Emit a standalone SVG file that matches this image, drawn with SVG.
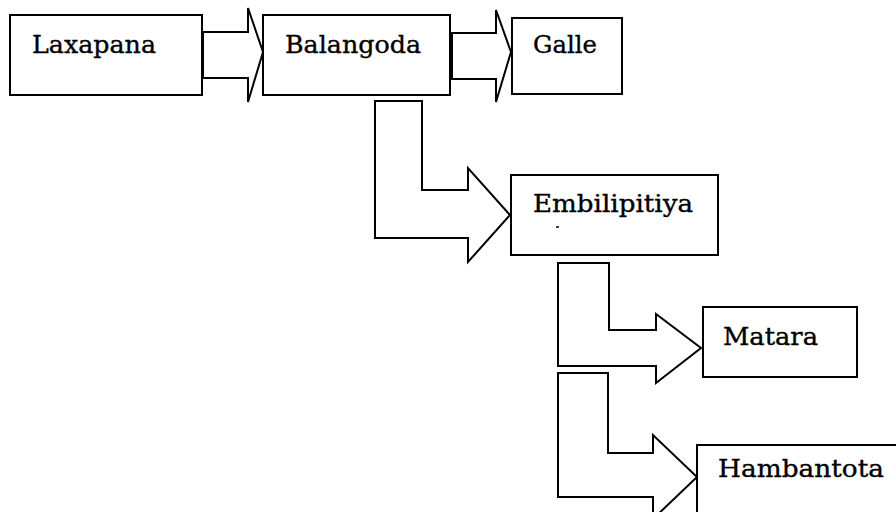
<svg xmlns="http://www.w3.org/2000/svg" width="896" height="512" viewBox="0 0 896 512">
<style>
.box{fill:#fff;stroke:#000;stroke-width:2}
.arr{fill:#fff;stroke:#000;stroke-width:2;stroke-linejoin:miter}
.t{font-family:"DejaVu Serif","Liberation Serif",serif;font-size:24px;fill:#000;stroke:#000;stroke-width:0.35}
</style>
<rect width="896" height="512" fill="#fff"/>
<g id="connectors">
<path class="arr" d="M203,32 H248 V8 L263,52 L248,102 V78 H203 Z"/>
<path class="arr" d="M452,33 H496 V10 L511,52 L496,102 V79 H452 Z"/>
<path class="arr" d="M375,101 H422 V190 H468 V168 L510,215 L468,262 V238 H375 Z"/>
<path class="arr" d="M558,263 H609 V330 H656 V314 L701,348 L656,383 V366 H558 Z"/>
<path class="arr" d="M558,373 H608 V453 H653 V435 L697,477 L653,519 V497 H558 Z"/>
</g>
<g id="laxapana"><rect class="box" x="10" y="15" width="192" height="80"/><text class="t" x="32" y="53" textLength="124" lengthAdjust="spacingAndGlyphs">Laxapana</text></g>
<g id="balangoda"><rect class="box" x="263" y="15" width="187" height="80"/><text class="t" x="285" y="53" textLength="136" lengthAdjust="spacingAndGlyphs">Balangoda</text></g>
<g id="galle"><rect class="box" x="512" y="18" width="110" height="76"/><text class="t" x="533" y="53" textLength="64" lengthAdjust="spacingAndGlyphs">Galle</text></g>
<g id="embilipitiya"><rect class="box" x="511" y="175" width="207" height="80"/><text class="t" x="533" y="212" textLength="160" lengthAdjust="spacingAndGlyphs">Embilipitiya</text><line x1="556" y1="227" x2="559" y2="227" stroke="#000" stroke-width="1.5"/></g>
<g id="matara"><rect class="box" x="703" y="307" width="154" height="70"/><text class="t" x="723" y="345" textLength="95" lengthAdjust="spacingAndGlyphs">Matara</text></g>
<g id="hambantota"><rect class="box" x="697" y="445" width="210" height="80"/><text class="t" x="718" y="477" textLength="166" lengthAdjust="spacingAndGlyphs">Hambantota</text></g>
</svg>
